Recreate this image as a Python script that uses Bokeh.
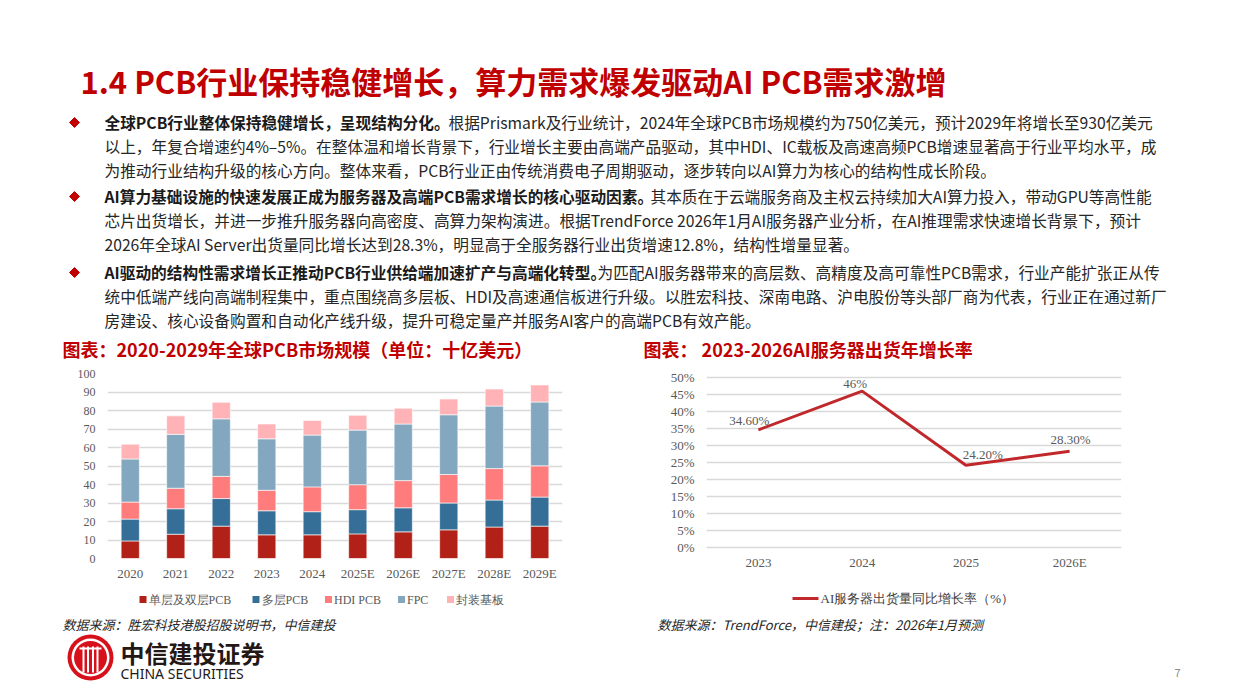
from bokeh.plotting import figure
from bokeh.layouts import column, row
from bokeh.models import (Range1d, FactorRange, FixedTicker, PrintfTickFormatter,
                          ColumnDataSource)
from bokeh.core.properties import value
from bokeh.embed import file_html
from bokeh.resources import INLINE

# ---------------- data ----------------
years = ["2020", "2021", "2022", "2023", "2024", "2025E", "2026E", "2027E", "2028E", "2029E"]
single_double = [9.5, 13.1, 17.5, 12.8, 12.8, 13.3, 14.4, 15.5, 17.0, 17.5]
multilayer = [11.8, 13.8, 14.9, 13.0, 12.5, 13.1, 13.0, 14.5, 14.6, 15.7]
hdi = [9.2, 11.1, 12.0, 11.1, 13.4, 13.5, 14.7, 15.4, 17.0, 16.9]
fpc = [23.3, 29.1, 31.1, 27.8, 28.0, 29.5, 30.6, 32.3, 33.8, 34.5]
substrate = [8.0, 10.0, 8.9, 8.0, 7.9, 8.0, 8.5, 8.5, 9.2, 9.2]
series_names = ["单层及双层PCB", "多层PCB", "HDI PCB", "FPC", "封装基板"]
pcb_ticks = [0, 10, 20, 30, 40, 50, 60, 70, 80, 90, 100]

ai_years = ["2023", "2024", "2025", "2026E"]
ai_growth = [34.6, 46.0, 24.2, 28.3]
ai_series_name = "AI服务器出货量同比增长率（%）"
ai_ticks = [0, 5, 10, 15, 20, 25, 30, 35, 40, 45, 50]

# ---------------- text ----------------
page_title = "1.4 PCB行业保持稳健增长，算力需求爆发驱动AI PCB需求激增"
bullet_leads = [
    "全球PCB行业整体保持稳健增长，呈现结构分化。",
    "AI算力基础设施的快速发展正成为服务器及高端PCB需求增长的核心驱动因素。",
    "AI驱动的结构性需求增长正推动PCB行业供给端加速扩产与高端化转型。",
]
bullet_lines = [
    ["根据Prismark及行业统计，2024年全球PCB市场规模约为750亿美元，预计2029年将增长至930亿美元",
     "以上，年复合增速约4%–5%。在整体温和增长背景下，行业增长主要由高端产品驱动，其中HDI、IC载板及高速高频PCB增速显著高于行业平均水平，成",
     "为推动行业结构升级的核心方向。整体来看，PCB行业正由传统消费电子周期驱动，逐步转向以AI算力为核心的结构性成长阶段。"],
    ["其本质在于云端服务商及主权云持续加大AI算力投入，带动GPU等高性能",
     "芯片出货增长，并进一步推升服务器向高密度、高算力架构演进。根据TrendForce 2026年1月AI服务器产业分析，在AI推理需求快速增长背景下，预计",
     "2026年全球AI  Server出货量同比增长达到28.3%，明显高于全服务器行业出货增速12.8%，结构性增量显著。"],
    ["为匹配AI服务器带来的高层数、高精度及高可靠性PCB需求，行业产能扩张正从传",
     "统中低端产线向高端制程集中，重点围绕高多层板、HDI及高速通信板进行升级。以胜宏科技、深南电路、沪电股份等头部厂商为代表，行业正在通过新厂",
     "房建设、核心设备购置和自动化产线升级，提升可稳定量产并服务AI客户的高端PCB有效产能。"],
]
left_title = "图表：2020-2029年全球PCB市场规模（单位：十亿美元）"
right_title = "图表： 2023-2026AI服务器出货年增长率"
left_source = "数据来源：胜宏科技港股招股说明书，中信建投"
right_source = "数据来源：TrendForce，中信建投；注：2026年1月预测"
brand_cn = "中信建投证券"
brand_en = "CHINA SECURITIES"
page_no = "7"

# ---------------- styling ----------------
CJK = "Noto Sans CJK SC"
SERIF = "Liberation Serif"
RED = "#C00000"
AXIS_GREY = "#595959"
GRID = "#d9d9d9"
LINE_RED = "#C0282B"
bar_colors = ["#B22118", "#356F98", "#FF7C7C", "#82A7BF", "#FFB3B6"]
W = 1240


def canvas(width, top, bottom):
    p = figure(width=width, height=bottom - top, x_range=Range1d(0, width),
               y_range=Range1d(bottom, top), x_axis_type=None, y_axis_type=None,
               output_backend="svg", toolbar_location=None, min_border=0)
    p.outline_line_color = None
    p.grid.visible = False
    return p


def style_axes(p, ylabel_size, xlabel_size, x_standoff):
    p.outline_line_color = None
    p.axis.axis_line_color = None
    p.axis.major_tick_line_color = None
    p.axis.minor_tick_line_color = None
    p.axis.major_tick_out = 0
    p.axis.major_tick_in = 0
    p.axis.major_label_text_font = SERIF
    p.axis.major_label_text_color = AXIS_GREY
    p.yaxis.major_label_text_font_size = ylabel_size
    p.xaxis.major_label_text_font_size = xlabel_size
    p.yaxis.major_label_standoff = 12
    p.xaxis.major_label_standoff = x_standoff
    p.xgrid.grid_line_color = None
    p.ygrid.grid_line_color = GRID
    p.ygrid.grid_line_width = 1.5


# ---------------- header: page title, bullets, chart captions ----------------
HEADER_BOTTOM = 362
header = canvas(W, 0, HEADER_BOTTOM)
header.text(x=[80], y=[80], text=[page_title], text_font=value(CJK),
            text_font_size="31px", text_font_style="bold", text_color=RED,
            text_baseline="middle")

bullet_top = [122, 196, 272]
rest_x = [448, 650, 597]
LINE = 24
header.scatter(x=[74] * 3, y=bullet_top, marker="square", size=7, angle=0.785398,
               fill_color=RED, line_color=RED)
header.text(x=[104] * 3, y=bullet_top, text=bullet_leads, text_font=value(CJK),
            text_font_size="15.7px", text_font_style="bold", text_color="#1a1a1a",
            text_baseline="middle")
xs, ys, ts = [], [], []
for i, lines in enumerate(bullet_lines):
    for k, line in enumerate(lines):
        xs.append(rest_x[i] if k == 0 else 104)
        ys.append(bullet_top[i] + k * LINE)
        ts.append(line)
header.text(x=xs, y=ys, text=ts, text_font=value(CJK), text_font_size="15.7px",
            text_color="#262626", text_baseline="middle")

header.text(x=[62, 643], y=[348, 348], text=[left_title, right_title],
            text_font=value(CJK), text_font_size="18px", text_font_style="bold",
            text_color=RED, text_baseline="middle")

# ---------------- chart row geometry (both frames share top/bottom) ----------------
CHART_BOTTOM = 585
CHART_H = CHART_BOTTOM - HEADER_BOTTOM
FRAME_TOP, FRAME_H = 11, 185
FRAME_BOTTOM = CHART_H - FRAME_TOP - FRAME_H

# ---------------- left chart: stacked PCB market size ----------------
src = ColumnDataSource(dict(year=years, single=single_double, multi=multilayer,
                            hdi=hdi, fpc=fpc, sub=substrate))
keys = ["single", "multi", "hdi", "fpc", "sub"]
left = figure(width=620, height=CHART_H, x_range=FactorRange(factors=years),
              y_range=Range1d(0, 100), output_backend="svg", toolbar_location=None,
              min_border_left=107, min_border_right=58, min_border_top=FRAME_TOP,
              min_border_bottom=FRAME_BOTTOM)
stack = left.vbar_stack(keys, x="year", width=0.4, source=src,
                        fill_color=bar_colors, line_color="white", line_width=0.6)
left.yaxis.ticker = FixedTicker(ticks=pcb_ticks)
style_axes(left, "12px", "13px", 7)

# ---------------- right chart: AI server shipment growth ----------------
# 0%..50% spans 170 px inside the shared 185 px frame
px_per_pct = 170 / 50
fmt_labels = [("%d%%" % v) if float(v).is_integer() else ("%.2f%%" % v) for v in ai_growth]
ai_src = ColumnDataSource(dict(year=ai_years, growth=ai_growth, label=fmt_labels,
                               dx=[-9, -7, 17, 1], dy=[-9, -8, -11, -12]))
right = figure(width=620, height=CHART_H, x_range=FactorRange(factors=ai_years),
               y_range=Range1d(-11 / px_per_pct, 50 + 4 / px_per_pct),
               output_backend="svg", toolbar_location=None,
               min_border_left=86, min_border_right=119, min_border_top=FRAME_TOP,
               min_border_bottom=FRAME_BOTTOM)
right.line(x="year", y="growth", source=ai_src, line_color=LINE_RED, line_width=3)
right.text(x="year", y="growth", text="label", x_offset="dx", y_offset="dy", source=ai_src,
           text_font=value(SERIF), text_font_size="13px", text_color=AXIS_GREY,
           text_align="center", text_baseline="middle")
right.yaxis.ticker = FixedTicker(ticks=ai_ticks)
right.yaxis.formatter = PrintfTickFormatter(format="%d%%")
style_axes(right, "13px", "13px", -4)

# ---------------- footer: legends, sources, logo and page number ----------------
footer = canvas(W, CHART_BOTTOM, 697)

# legend keys for the stacked bars
swatch_x = [142.5, 255.5, 328, 401, 450]
footer.scatter(x=swatch_x, y=[599] * 5, marker="square", size=7,
               fill_color=bar_colors, line_color=None)
footer.text(x=[sx + 5.5 for sx in swatch_x], y=[599] * 5, text=series_names,
            text_font=value(SERIF), text_font_size="12px", text_color=AXIS_GREY,
            text_baseline="middle")
# legend key for the growth line
footer.segment(x0=[792], y0=[598], x1=[818], y1=[598], line_color=LINE_RED, line_width=3)
footer.text(x=[820], y=[598], text=[ai_series_name], text_font=value(SERIF),
            text_font_size="13px", text_color="#404040", text_baseline="middle")

footer.text(x=[62, 657], y=[624, 624], text=[left_source, right_source],
            text_font=value(CJK), text_font_size="13px", text_font_style="italic",
            text_color="#262626", text_baseline="middle")

LOGO_RED = "#D7111B"
footer.circle(x=[90], y=[657], radius=23, fill_color=LOGO_RED, line_color=None)
footer.circle(x=[90], y=[657], radius=19, fill_color="white", line_color=None)
footer.circle(x=[90], y=[657], radius=16.5, fill_color=LOGO_RED, line_color=None)
footer.segment(x0=[83, 87.5, 92.5, 97], y0=[646] * 4, x1=[83, 87.5, 92.5, 97], y1=[672] * 4,
               line_color="white", line_width=2)
footer.segment(x0=[79], y0=[648], x1=[101], y1=[648], line_color="white", line_width=2)
footer.text(x=[120], y=[652], text=[brand_cn], text_font=value(CJK), text_font_size="24px",
            text_font_style="bold", text_color="#231815", text_baseline="middle")
footer.text(x=[120], y=[673], text=[brand_en], text_font=value("Noto Sans"),
            text_font_size="14px", text_color="#231815", text_baseline="middle")
footer.text(x=[1177], y=[672], text=[page_no], text_font=value(CJK), text_font_size="11px",
            text_color="#8c8c8c", text_baseline="middle", text_align="center")

layout = column(header, row(left, right), footer)
open("out.html", "w").write(file_html(layout, INLINE))
